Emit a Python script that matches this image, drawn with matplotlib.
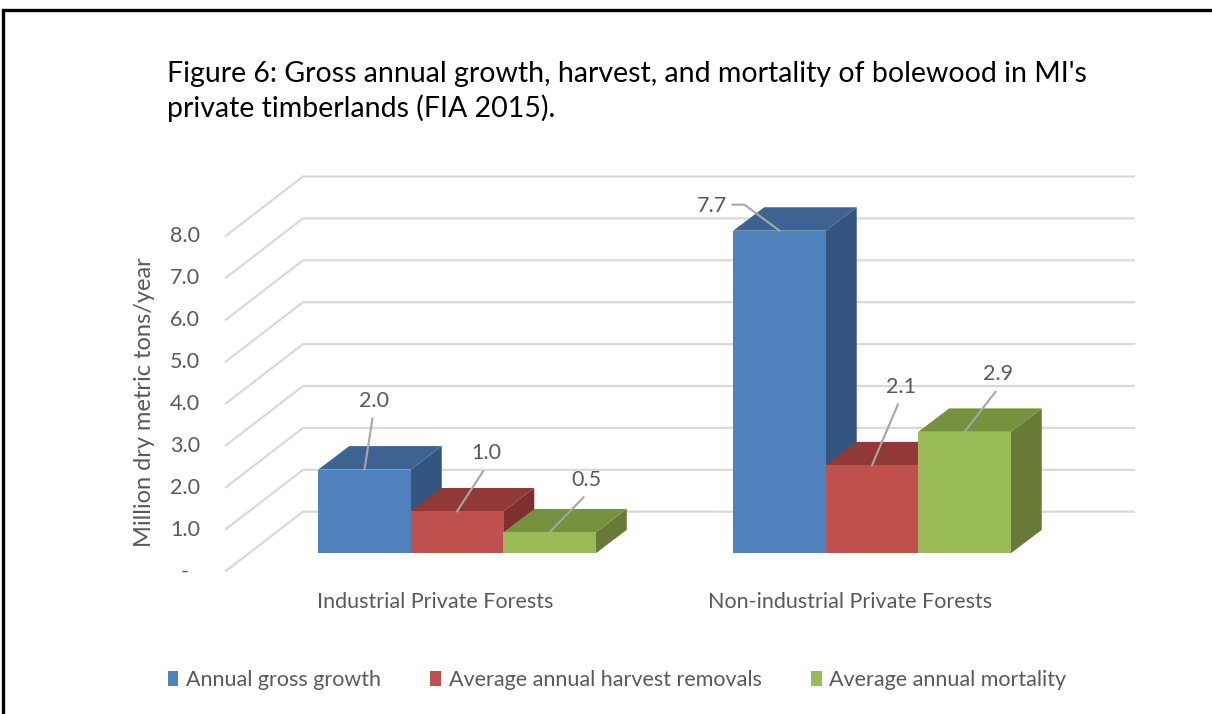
import matplotlib
matplotlib.use("Agg")
import matplotlib.pyplot as plt
import matplotlib.transforms as mtransforms
from matplotlib.patches import Polygon, Rectangle, Patch
from matplotlib.lines import Line2D

plt.rcParams['font.family'] = ['Lato', 'DejaVu Sans']

# ---------------- data ----------------
categories = ["Industrial Private Forests", "Non-industrial Private Forests"]
series_names = ["Annual gross growth", "Average annual harvest removals", "Average annual mortality"]
growth = [2.0, 7.7]
harvest = [1.0, 2.1]
mortality = [0.5, 2.9]
series_values = [growth, harvest, mortality]
y_ticks = [0, 1, 2, 3, 4, 5, 6, 7, 8]
y_tick_labels = ["-  ", "1.0", "2.0", "3.0", "4.0", "5.0", "6.0", "7.0", "8.0"]
title_lines = ["Figure 6: Gross annual growth, harvest, and mortality of bolewood in MI's",
               "private timberlands (FIA 2015)."]
y_label = "Million dry metric tons/year"

# ---------------- style ----------------
front_cols = ["#4F81BD", "#C0504D", "#9BBB59"]
top_cols = ["#3C6391", "#903937", "#77923E"]
side_cols = ["#34557F", "#7E302E", "#677B36"]
grid_col = "#D9D9D9"
text_col = "#595959"
lead_col = "#A6A6A6"

W, H = 1212, 714
fig = plt.figure(figsize=(W / 100, H / 100), dpi=100)
ax = fig.add_axes([0, 0, 1, 1])
ax.set_xlim(-1.1012, 1.8193)
ax.set_ylim(-3.835, 13.205)
ax.axis('off')

bar_w = 0.2229
depth_dx, depth_dy = 0.0747, 0.5585

# back wall gridlines (3D look)
fx, fy = -0.559, -0.439
bx, by = -0.371, 0.993
rx = 1.634
for v, lab in zip(y_ticks, y_tick_labels):
    ax.plot([fx, bx, rx], [v + fy, v + by, v + by], color=grid_col, lw=1.6,
            solid_capstyle='butt', zorder=1)
    ax.text(-0.619, v + fy, lab, ha='right', va='center', fontsize=15.5, color=text_col)

# bars
for s, vals in enumerate(series_values):
    for i, v in enumerate(vals):
        x0 = i - 1.5 * bar_w + s * bar_w
        side = Polygon([(x0 + bar_w, 0), (x0 + bar_w + depth_dx, depth_dy),
                        (x0 + bar_w + depth_dx, v + depth_dy), (x0 + bar_w, v)],
                       closed=True, facecolor=side_cols[s], edgecolor='none', zorder=2 + s)
        top = Polygon([(x0, v), (x0 + bar_w, v), (x0 + bar_w + depth_dx, v + depth_dy),
                       (x0 + depth_dx, v + depth_dy)],
                      closed=True, facecolor=top_cols[s], edgecolor='none', zorder=2 + s)
        front = Rectangle((x0, 0), bar_w, v, facecolor=front_cols[s], edgecolor='none',
                          zorder=2 + s)
        ax.add_patch(side)
        ax.add_patch(top)
        ax.add_patch(front)

# data labels with leader lines (pixel offsets from bar top-front centre)
leader_offsets = {
    (0, 0): ([(0, 0), (8, 51)], (10, 69), 'center'),
    (1, 0): ([(0, 0), (26, 40)], (29, 58), 'center'),
    (2, 0): ([(0, 0), (34, 35)], (37, 52), 'center'),
    (0, 1): ([(0, 0), (-35, 26), (-47, 26)], (-52, 25), 'right'),
    (1, 1): ([(0, 0), (26, 61)], (29, 78), 'center'),
    (2, 1): ([(0, 0), (31, 40)], (34, 58), 'center'),
}
for s, vals in enumerate(series_values):
    for i, v in enumerate(vals):
        xc = i - 1.5 * bar_w + s * bar_w + bar_w / 2
        trans = mtransforms.IdentityTransform() + mtransforms.ScaledTranslation(xc, v, ax.transData)
        pts, tpos, ha = leader_offsets[(s, i)]
        ax.add_line(Line2D([p[0] for p in pts], [p[1] for p in pts], transform=trans,
                           color=lead_col, lw=1.5, zorder=10))
        ax.text(tpos[0], tpos[1], f"{v:.1f}", transform=trans, ha=ha, va='center',
                fontsize=15.5, color=text_col, zorder=11)

# category labels
for i, c in enumerate(categories):
    ax.text(i - 0.053, -1.162, c, ha='center', va='center', fontsize=15.5, color=text_col)

# y-axis title
ax.text(-0.752, 3.61, y_label, rotation=90, ha='center', va='center', fontsize=17,
        color=text_col)

# chart title
fig.text(167 / W, 1 - 82 / H, title_lines[0], ha='left', va='baseline', fontsize=20.5,
         color='black')
fig.text(167 / W, 1 - 117 / H, title_lines[1], ha='left', va='baseline', fontsize=20.5,
         color='black')

# legend
handles = [Patch(facecolor=c, edgecolor='none') for c in front_cols]
fig.legend(handles, series_names, loc='center', bbox_to_anchor=(617 / W, 1 - 680 / H),
           ncol=3, frameon=False, fontsize=15.5, labelcolor=text_col,
           handlelength=0.5, handleheight=0.7, handletextpad=0.35, columnspacing=2.3)

# outer frame
fig.patches.append(Rectangle((3 / W, -0.1), 1.2, 1 - 10 / H + 0.1, transform=fig.transFigure,
                             fill=False, edgecolor='black', lw=2.4, clip_on=False))

fig.savefig("out.png", dpi=100)
